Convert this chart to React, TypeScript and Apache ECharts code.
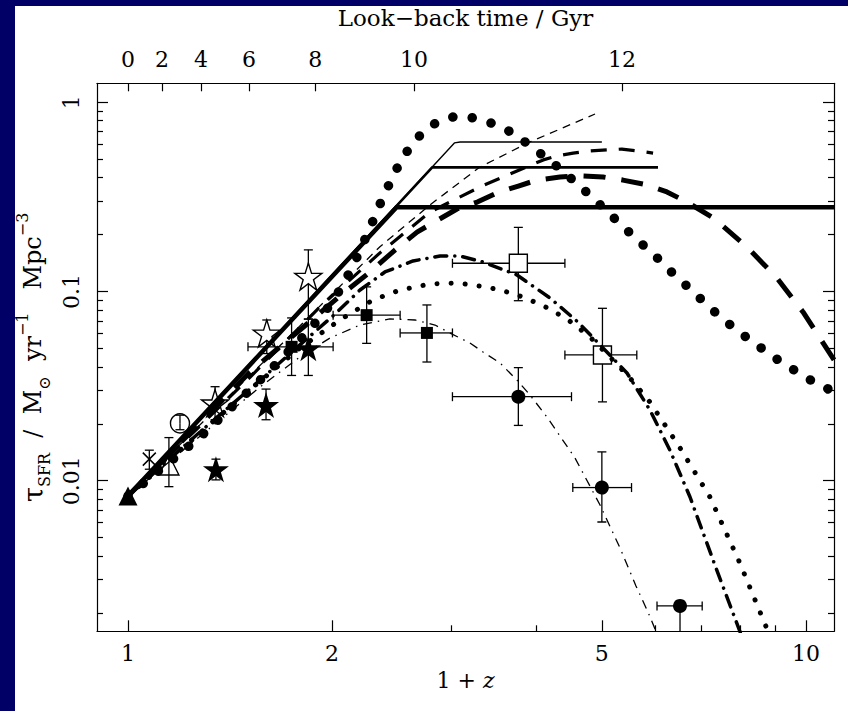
import React, { useEffect, useRef } from 'react';
import * as echarts from 'echarts';

const FONT = '"DejaVu Serif", "Liberation Serif", serif';

// ---- axis ticks ----
const xMajorTicks = [1, 2, 5, 10];
const xMinorTicks = [3, 4, 6, 7, 8, 9];
const yMajorTicks = [0.01, 0.1, 1];
const yMinorTicks = [0.002, 0.003, 0.004, 0.005, 0.006, 0.007, 0.008, 0.009, 0.02, 0.03, 0.04, 0.05, 0.06, 0.07, 0.08, 0.09, 0.2, 0.3, 0.4, 0.5, 0.6, 0.7, 0.8, 0.9];
const lookbackLabels = ['0', '2', '4', '6', '8', '10', '12'];
const lookbackPos = [1.0, 1.122, 1.281, 1.508, 1.888, 2.642, 5.354];

// ---- model curves: [1+z, SFR density] ----
const thinSolid = [[1, 0.0083], [3.03, 0.61], [3.09, 0.617], [5.0, 0.617]];
const mediumSolid = [[1, 0.0083], [2.81, 0.453], [6.05, 0.453]];
const thickSolid = [[1, 0.0083], [2.49, 0.279], [11, 0.279]];
const thinDashed = [[1, 0.0083], [2.353, 0.1725], [2.789, 0.287], [3.305, 0.455], [3.916, 0.617], [4.885, 0.867]];
const mediumDashed = [[1, 0.0083], [1.513, 0.0352], [1.919, 0.0829], [2.353, 0.16], [2.789, 0.263], [3.305, 0.357], [3.577, 0.4035], [3.896, 0.46], [4.098, 0.496], [4.29, 0.52], [4.535, 0.539], [4.774, 0.5525], [5.09, 0.56], [5.35, 0.566], [5.66, 0.5525], [5.95, 0.539]];
const thickDashed = [[1, 0.0083], [1.513, 0.0375], [1.793, 0.0626], [2.054, 0.0947], [2.275, 0.1268], [2.476, 0.1657], [2.669, 0.206], [2.866, 0.239], [3.057, 0.273], [3.275, 0.297], [3.5, 0.332], [3.765, 0.361], [4.01, 0.388], [4.337, 0.403], [4.642, 0.408], [5.019, 0.403], [5.37, 0.388], [5.83, 0.366], [6.237, 0.336], [6.675, 0.297], [7.3, 0.245], [8.185, 0.172], [9.06, 0.118], [9.9, 0.078], [11.03, 0.0429]];
const bigDotted = [[1, 0.0083], [1.277, 0.017], [1.566, 0.034], [1.793, 0.0554], [1.952, 0.0779], [2.076, 0.108], [2.184, 0.156], [2.275, 0.217], [2.378, 0.316], [2.485, 0.439], [2.588, 0.56], [2.706, 0.68], [2.856, 0.787], [3.047, 0.846], [3.268, 0.823], [3.477, 0.765], [3.701, 0.686], [3.926, 0.587], [4.146, 0.506], [4.377, 0.434], [4.616, 0.366], [4.858, 0.311], [5.11, 0.261], [5.377, 0.22], [5.656, 0.1856], [5.954, 0.158], [6.265, 0.1315], [6.592, 0.1113], [6.937, 0.0939], [7.3, 0.0792], [7.707, 0.0673], [8.147, 0.0577], [8.603, 0.0501], [9.103, 0.0434], [9.656, 0.038], [10.25, 0.0334], [10.91, 0.0299], [11.0, 0.0295]];
const dashDot = [[1, 0.0083], [1.277, 0.0181], [1.566, 0.034], [1.793, 0.0522], [2.02, 0.076], [2.199, 0.1018], [2.393, 0.1268], [2.633, 0.145], [2.886, 0.154], [3.089, 0.154], [3.339, 0.1432], [3.748, 0.1223], [4.192, 0.0924], [4.609, 0.069], [5.019, 0.0503], [5.445, 0.0371], [5.888, 0.0236], [6.3, 0.0145], [6.745, 0.0082], [7.341, 0.00358], [7.99, 0.0016], [8.1, 0.00135]];
const dotted = [[1, 0.0083], [1.277, 0.0179], [1.566, 0.0336], [1.793, 0.0503], [2.054, 0.0707], [2.298, 0.0902], [2.519, 0.1018], [2.789, 0.1096], [3.057, 0.1109], [3.384, 0.1056], [3.723, 0.097], [4.079, 0.0849], [4.442, 0.0716], [4.802, 0.0575], [5.139, 0.0451], [5.5, 0.0349], [5.888, 0.026], [6.52, 0.0149], [7.218, 0.0082], [7.99, 0.00367], [8.79, 0.0016], [9.0, 0.0012]];
const thinDashDot = [[1, 0.0083], [1.277, 0.0172], [1.566, 0.0313], [1.793, 0.0451], [1.986, 0.0568], [2.199, 0.0665], [2.434, 0.0716], [2.651, 0.0707], [2.837, 0.0665], [2.986, 0.0603], [3.194, 0.0534], [3.339, 0.0479], [3.538, 0.0419], [3.748, 0.034], [3.916, 0.0284], [4.15, 0.0217], [4.563, 0.0132], [4.969, 0.00744], [5.318, 0.00441], [5.614, 0.00278], [5.848, 0.00202], [6.009, 0.0016], [6.133, 0.00127]];

// ---- observations ----
const filledTriangle = [[1.0, 0.0083]];
const xCross = [[1.075, 0.013]];
const xCrossYErr = [[0.0115, 0.0145]];
const openTriangle = [[1.149, 0.0121]];
const openTriangleYErr = [[0.0093, 0.0169]];
const openCircle = [[1.193, 0.0201]];
const openCircleYErr = [[0.0186, 0.0222]];
const openStars = [[1.344, 0.0257], [1.602, 0.0601], [1.845, 0.12]];
const openStarsYErr = [[0.021, 0.0314], [0.047, 0.0707], [0.0715, 0.166]];
const filledStars = [[1.348, 0.0115], [1.598, 0.0251], [1.845, 0.0501]];
const filledStarsYErr = [[0.0101, 0.013], [0.021, 0.0305], [0.036, 0.0715]];
const filledSquares = [[1.743, 0.051], [2.249, 0.075], [2.76, 0.0604]];
const filledSquaresXErr = [[1.503, 2.007], [2.007, 2.52], [2.52, 3.01]];
const filledSquaresYErr = [[0.036, 0.0725], [0.0532, 0.1058], [0.0424, 0.0849]];
const openSquares = [[3.765, 0.141], [5.01, 0.0462]];
const openSquaresXErr = [[3.01, 4.41], [4.41, 5.63]];
const openSquaresYErr = [[0.0894, 0.218], [0.0261, 0.0815]];
const filledCircles = [[3.765, 0.0278], [5.0, 0.0092], [6.52, 0.00218]];
const filledCirclesXErr = [[3.01, 4.51], [4.53, 5.53], [6.03, 7.03]];
const filledCirclesYErr = [[0.0196, 0.0396], [0.00605, 0.0142], [0.0012, 0.00218]];

const starPath =
  'path://' +
  Array.from({ length: 10 }, (_, i) => {
    const r = i % 2 ? 19.1 : 50;
    const a = ((-90 + 36 * i) * Math.PI) / 180;
    return (i ? 'L' : 'M') + (50 + r * Math.cos(a)).toFixed(2) + ' ' + (50 + r * Math.sin(a)).toFixed(2);
  }).join('') +
  'Z';
const crossPath = 'path://M0 0L10 10M10 0L0 10';

function errSeries(pts: number[][], xErr: number[][] | null, yErr: number[][] | null, gap: number) {
  return {
    type: 'custom',
    xAxisIndex: 0,
    yAxisIndex: 0,
    clip: true,
    silent: true,
    z: 2,
    encode: { x: 0, y: 1 },
    data: pts.map((p, i) => [
      p[0],
      p[1],
      xErr ? xErr[i][0] : p[0],
      xErr ? xErr[i][1] : p[0],
      yErr ? yErr[i][0] : p[1],
      yErr ? yErr[i][1] : p[1],
    ]),
    renderItem: (_params: any, api: any) => {
      const x = api.value(0);
      const y = api.value(1);
      const c = api.coord([x, y]);
      const st = { stroke: '#000', lineWidth: 1.3 };
      const cap = 4.5;
      const kids: any[] = [];
      const seg = (x1: number, y1: number, x2: number, y2: number) =>
        kids.push({ type: 'line', shape: { x1, y1, x2, y2 }, style: st });
      const xl = api.value(2), xh = api.value(3), yl = api.value(4), yh = api.value(5);
      if (xl !== xh) {
        const a = api.coord([xl, y]);
        const b = api.coord([xh, y]);
        if (c[0] - gap > a[0]) seg(a[0], c[1], c[0] - gap, c[1]);
        if (c[0] + gap < b[0]) seg(c[0] + gap, c[1], b[0], c[1]);
        seg(a[0], c[1] - cap, a[0], c[1] + cap);
        seg(b[0], c[1] - cap, b[0], c[1] + cap);
      }
      if (yl !== yh) {
        const a = api.coord([x, yl]);
        const b = api.coord([x, yh]);
        if (c[1] + gap < a[1]) seg(c[0], a[1], c[0], c[1] + gap);
        if (c[1] - gap > b[1]) seg(c[0], c[1] - gap, c[0], b[1]);
        seg(c[0] - cap, a[1], c[0] + cap, a[1]);
        seg(c[0] - cap, b[1], c[0] + cap, b[1]);
      }
      return { type: 'group', children: kids };
    },
  };
}

function scatter(data: number[][], symbol: string, size: number, fill: string, border: number) {
  return {
    type: 'scatter',
    xAxisIndex: 0,
    yAxisIndex: 0,
    data,
    symbol,
    symbolSize: size,
    silent: true,
    z: 3,
    itemStyle: { color: fill, borderColor: '#000', borderWidth: border, opacity: 1 },
  };
}

function curve(data: number[][], width: number, type: any, cap = 'butt') {
  return {
    type: 'line',
    xAxisIndex: 0,
    yAxisIndex: 0,
    data,
    showSymbol: false,
    symbol: 'none',
    silent: true,
    clip: true,
    z: 4,
    lineStyle: { color: '#000', width, type, cap, join: 'round' },
  };
}

const lineSt = { color: '#000', width: 1.2 };
const labelBase = { fontFamily: FONT, fontSize: 22, color: '#000' };
const fmtNum = (v: number) => String(Number(Number(v).toPrecision(3)));

function xAxisBase(extra: any) {
  return {
    type: 'log',
    logBase: 10,
    min: 0.9,
    max: 11,
    gridIndex: 0,
    splitLine: { show: false },
    ...extra,
  };
}
function yAxisBase(extra: any) {
  return {
    type: 'log',
    logBase: 10,
    min: 0.0016,
    max: 1.26,
    gridIndex: 0,
    splitLine: { show: false },
    ...extra,
  };
}

export default function App() {
  const ref = useRef<HTMLDivElement>(null);
  useEffect(() => {
    if (!ref.current) return;
    const chart = echarts.init(ref.current, undefined, { renderer: 'svg' });
    const option: any = {
      animation: false,
      backgroundColor: 'transparent',
      textStyle: { fontFamily: FONT },
      grid: { left: 97, top: 83.3, width: 737, height: 548, containLabel: false, outerBoundsMode: 'none' },
      xAxis: [
        xAxisBase({
          position: 'bottom',
          axisLine: { show: true, onZero: false, lineStyle: lineSt },
          axisTick: { show: true, inside: true, length: 11, customValues: xMajorTicks, lineStyle: lineSt },
          axisLabel: { show: true, customValues: xMajorTicks, margin: 11, ...labelBase, formatter: (v: number) => fmtNum(v) },
          name: '{n|1 + }{i|z}',
          nameLocation: 'middle',
          nameGap: 38,
          nameTextStyle: {
            ...labelBase,
            rich: {
              n: { fontFamily: FONT, fontSize: 22, color: '#000' },
              i: { fontFamily: FONT, fontSize: 22, color: '#000', fontStyle: 'italic' },
            },
          },
        }),
        xAxisBase({
          position: 'top',
          axisLine: { show: true, onZero: false, lineStyle: lineSt },
          axisTick: { show: true, inside: true, length: 8, customValues: lookbackPos, lineStyle: lineSt },
          axisLabel: {
            show: true,
            customValues: lookbackPos,
            margin: 13,
            ...labelBase,
            formatter: (v: number) => {
              let best = 0;
              let bd = Infinity;
              lookbackPos.forEach((p, i) => {
                const d = Math.abs(Math.log(p) - Math.log(v));
                if (d < bd) {
                  bd = d;
                  best = i;
                }
              });
              return lookbackLabels[best];
            },
          },
          name: 'Look−back time / Gyr',
          nameLocation: 'middle',
          nameGap: 54,
          nameTextStyle: { ...labelBase, fontSize: 23 },
        }),
        xAxisBase({
          position: 'bottom',
          axisLine: { show: false, onZero: false },
          axisTick: { show: true, inside: true, length: 6, customValues: xMinorTicks, lineStyle: lineSt },
          axisLabel: { show: false },
        }),
      ],
      yAxis: [
        yAxisBase({
          position: 'left',
          axisLine: { show: true, onZero: false, lineStyle: lineSt },
          axisTick: { show: true, inside: true, length: 11, customValues: yMajorTicks, lineStyle: lineSt },
          axisLabel: { show: true, customValues: yMajorTicks, rotate: 90, margin: 15, ...labelBase, formatter: (v: number) => fmtNum(v) },
          name: '{t|τ}{s|SFR}{n|  /  M}{s|⊙}{n|  yr}{p|−1}{n|   Mpc}{p|−3}',
          nameLocation: 'middle',
          nameGap: 36,
          nameRotate: 90,
          nameTextStyle: {
            ...labelBase,
            rich: {
              t: { fontFamily: FONT, fontSize: 27, color: '#000', lineHeight: 38 },
              n: { fontFamily: FONT, fontSize: 24, color: '#000', lineHeight: 38 },
              s: { fontFamily: FONT, fontSize: 16, color: '#000', lineHeight: 16, verticalAlign: 'bottom' },
              p: { fontFamily: FONT, fontSize: 16, color: '#000', lineHeight: 16, verticalAlign: 'top' },
            },
          },
        }),
        yAxisBase({
          position: 'left',
          axisLine: { show: false, onZero: false },
          axisTick: { show: true, inside: true, length: 6, customValues: yMinorTicks, lineStyle: lineSt },
          axisLabel: { show: false },
        }),
        yAxisBase({
          position: 'right',
          axisLine: { show: true, onZero: false, lineStyle: lineSt },
          axisTick: { show: true, inside: true, length: 11, customValues: yMajorTicks, lineStyle: lineSt },
          axisLabel: { show: false },
        }),
        yAxisBase({
          position: 'right',
          axisLine: { show: false, onZero: false },
          axisTick: { show: true, inside: true, length: 6, customValues: yMinorTicks, lineStyle: lineSt },
          axisLabel: { show: false },
        }),
      ],
      series: [
        errSeries(xCross, null, xCrossYErr, 0),
        errSeries(openTriangle, null, openTriangleYErr, 0),
        errSeries(openCircle, null, openCircleYErr, 0),
        errSeries(openStars, null, openStarsYErr, 0),
        errSeries(filledStars, null, filledStarsYErr, 0),
        errSeries(filledSquares, filledSquaresXErr, filledSquaresYErr, 0),
        errSeries(openSquares, openSquaresXErr, openSquaresYErr, 0),
        errSeries(filledCircles, filledCirclesXErr, filledCirclesYErr, 0),
        scatter(filledTriangle, 'triangle', 19, '#000', 0),
        scatter(xCross, crossPath, 13, 'none', 1.5),
        scatter(openTriangle, 'triangle', 20, 'none', 1.4),
        scatter(openCircle, 'circle', 19, 'none', 1.4),
        scatter(openStars, starPath, 27, '#fff', 1.4),
        scatter(filledStars, starPath, 26, '#000', 0),
        scatter(filledSquares, 'rect', 12, '#000', 0),
        scatter(openSquares, 'rect', 18, '#fff', 1.4),
        scatter(filledCircles, 'circle', 14, '#000', 0),
        curve(thickSolid, 4.5, 'solid'),
        curve(mediumSolid, 2.6, 'solid'),
        curve(thinSolid, 1.4, 'solid'),
        curve(thinDashed, 1.3, [8, 6]),
        curve(mediumDashed, 3.2, [16, 12]),
        curve(thickDashed, 5, [22, 16]),
        curve(bigDotted, 9.5, [0.1, 19.5], 'round'),
        curve(dotted, 5, [0.1, 14], 'round'),
        curve(dashDot, 3.5, [12, 8, 0.1, 8], 'round'),
        curve(thinDashDot, 1.3, [9, 6, 1.5, 6]),
      ],
    };
    chart.setOption(option);
    return () => chart.dispose();
  }, []);

  return (
    <div style={{ position: 'fixed', left: 0, top: 0, width: 848, height: 711, background: '#000066', overflow: 'hidden' }}>
      <div style={{ position: 'absolute', left: 15, top: 6, right: 0, bottom: 0, background: '#ffffff' }} />
      <div ref={ref} style={{ position: 'absolute', left: 0, top: 0, width: 848, height: 711 }} />
    </div>
  );
}
